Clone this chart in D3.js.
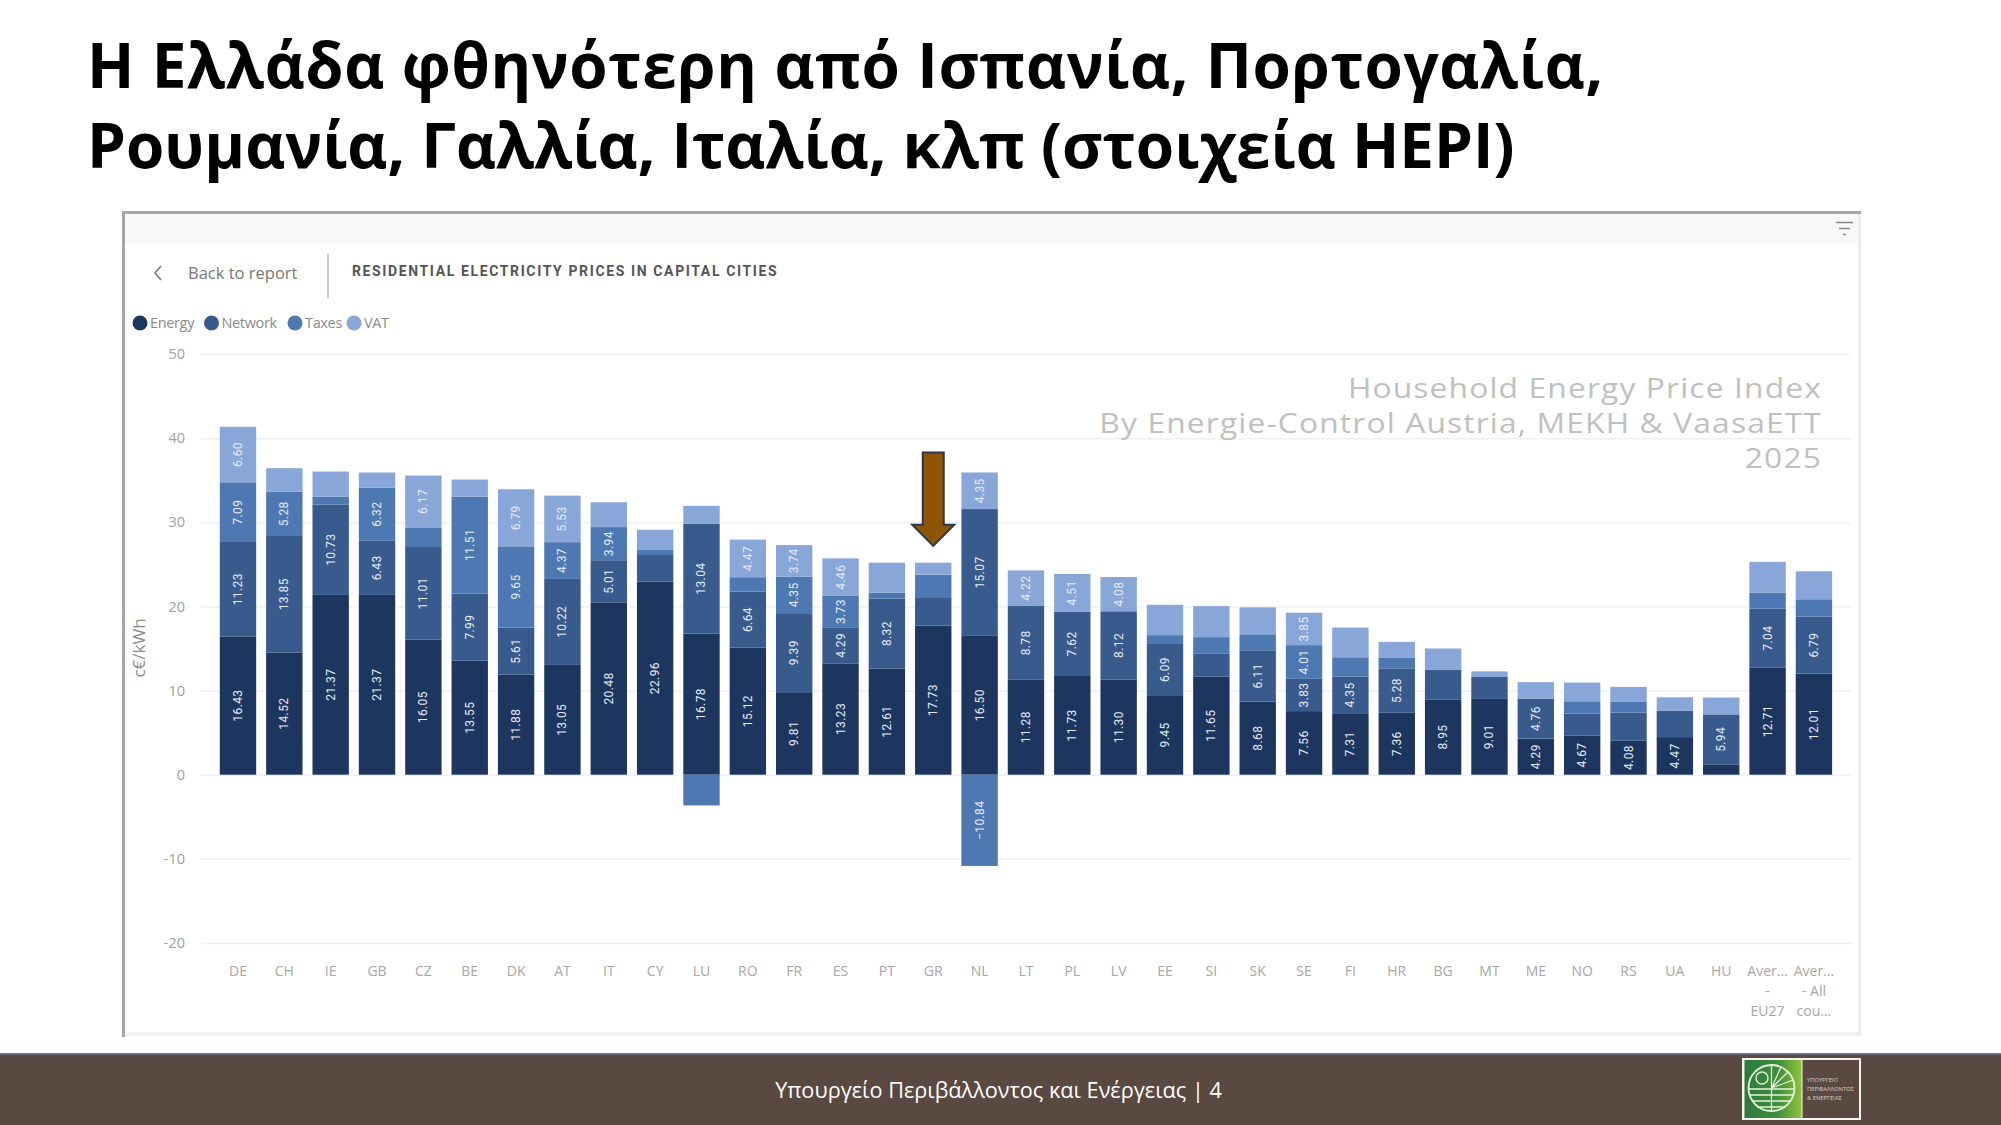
<!DOCTYPE html>
<meta charset="utf-8">
<style>
  body { margin: 0; background: #fff; }
  svg { display: block; }
  text { font-family: "Open Sans", sans-serif; }
</style>

<script src="https://d3js.org/d3.v7.min.js"></script>

<div id="my_dataviz"></div>

<script>
  var width = 2001
  var height = 1125

  // stacked series, c€/kWh
  var categories = ["DE", "CH", "IE", "GB", "CZ", "BE", "DK", "AT", "IT", "CY", "LU", "RO", "FR", "ES", "PT", "GR", "NL",
                    "LT", "PL", "LV", "EE", "SI", "SK", "SE", "FI", "HR", "BG", "MT", "ME", "NO", "RS", "UA", "HU", "Aver... - EU27", "Aver... - All cou..."]
  var tickLines = { "Aver... - EU27": ["Aver...", "-", "EU27"], "Aver... - All cou...": ["Aver...", "- All", "cou..."] }

  var energy  = [16.43, 14.52, 21.37, 21.37, 16.05, 13.55, 11.88, 13.05, 20.48, 22.96, 16.78, 15.12, 9.81, 13.23, 12.61, 17.73, 16.50,
                 11.28, 11.73, 11.30, 9.45, 11.65, 8.68, 7.56, 7.31, 7.36, 8.95, 9.01, 4.29, 4.67, 4.08, 4.47, 1.23, 12.71, 12.01]
  var network = [11.23, 13.85, 10.73, 6.43, 11.01, 7.99, 5.61, 10.22, 5.01, 3.15, 13.04, 6.64, 9.39, 4.29, 8.32, 3.27, 15.07,
                 8.78, 7.62, 8.12, 6.09, 2.72, 6.11, 3.83, 4.35, 5.28, 3.55, 2.60, 4.76, 2.59, 3.30, 3.15, 5.94, 7.04, 6.79]
  var taxes   = [7.09, 5.28, 0.95, 6.32, 2.33, 11.51, 9.65, 4.37, 3.94, 0.60, -3.65, 1.71, 4.35, 3.73, 0.70, 2.77, -10.84,
                 0, 0, 0, 1.05, 1.98, 1.90, 4.01, 2.30, 1.30, 0, 0, 0, 1.47, 1.27, 0, 0, 1.90, 2.05]
  var vat     = [6.60, 2.78, 2.98, 1.79, 6.17, 2.03, 6.79, 5.53, 2.95, 2.40, 2.13, 4.47, 3.74, 4.46, 3.57, 1.43, 4.35,
                 4.22, 4.51, 4.08, 3.60, 3.69, 3.20, 3.85, 3.53, 1.85, 2.50, 0.67, 1.95, 2.22, 1.79, 1.58, 2.00, 3.65, 3.33]

  var seriesNames = ["Energy", "Network", "Taxes", "VAT"]
  var yTicks = [-20, -10, 0, 10, 20, 30, 40, 50]
  var labelMin = 3.7   // smaller segments carry no label in the report

  var titleLines = ["Η Ελλάδα φθηνότερη από Ισπανία, Πορτογαλία,", "Ρουμανία, Γαλλία, Ιταλία, κλπ (στοιχεία HEPI)"]
  var watermark = ["Household Energy Price Index", "By Energie-Control Austria, MEKH & VaasaETT", "2025"]

  var color = d3.scaleOrdinal()
    .domain(seriesNames)
    .range(["#1d3660", "#395a8d", "#4e78b2", "#88a6d8"])

  var rows = categories.map(function(c, i){
    return { name: c, Energy: energy[i], Network: network[i], Taxes: taxes[i], VAT: vat[i] }
  })

  var stacked = d3.stack()
    .keys(seriesNames)
    .offset(d3.stackOffsetDiverging)(rows)

  var svg = d3.select("#my_dataviz")
    .append("svg")
      .attr("width", width)
      .attr("height", height)

  var x = d3.scaleBand()
    .domain(categories)
    .range([214.8, 1837.1])
    .paddingInner(0.215)
    .paddingOuter(0.1075)

  var y = d3.scaleLinear()
    .domain([-20, 50])
    .range([943, 354])

  // report panel
  svg.append("rect").attr("x", 123).attr("y", 212).attr("width", 1737).attr("height", 31).attr("fill", "#f8f8f8")
  svg.append("rect").attr("x", 123).attr("y", 1032).attr("width", 1737).attr("height", 4).attr("fill", "#f1f1f1")
  svg.append("rect").attr("x", 1858).attr("y", 212).attr("width", 3).attr("height", 824).attr("fill", "#ececec")
  svg.append("rect").attr("x", 122).attr("y", 211).attr("width", 1739).attr("height", 3).attr("fill", "#a6a6a6")
  svg.append("rect").attr("x", 122).attr("y", 211).attr("width", 3).attr("height", 826).attr("fill", "#a6a6a6")

  // filter icon
  var icon = svg.append("g").attr("stroke", "#8a8a8a").attr("stroke-width", 1.5)
  icon.append("line").attr("x1", 1836).attr("x2", 1853).attr("y1", 222.5).attr("y2", 222.5)
  icon.append("line").attr("x1", 1839).attr("x2", 1850).attr("y1", 228.5).attr("y2", 228.5)
  icon.append("line").attr("x1", 1843).attr("x2", 1846).attr("y1", 234.5).attr("y2", 234.5)

  // header of the report
  svg.append("path").attr("d", "M161,266 L155,273 L161,280").attr("fill", "none").attr("stroke", "#777").attr("stroke-width", 1.6)
  svg.append("text").attr("x", 188).attr("y", 279).attr("font-size", 16.5).attr("fill", "#777").text("Back to report")
  svg.append("line").attr("x1", 328).attr("x2", 328).attr("y1", 254).attr("y2", 298).attr("stroke", "#bbb").attr("stroke-width", 1.5)
  svg.append("text").attr("x", 352).attr("y", 276).attr("font-size", 14).attr("font-weight", 700)
    .attr("letter-spacing", 1.62).attr("fill", "#555").style("font-family", "Roboto").text("RESIDENTIAL ELECTRICITY PRICES IN CAPITAL CITIES")

  // legend
  var legendX = [140, 211.5, 295, 354]
  var legend = svg.append("g").selectAll("g")
    .data(seriesNames)
    .enter()
    .append("g")
      .attr("transform", function(d, i){ return "translate(" + legendX[i] + ",323)" })
  legend.append("circle").attr("r", 7.5).attr("fill", function(d){ return color(d) })
  legend.append("text")
    .attr("x", 10).attr("y", 5).attr("font-size", 14.5).attr("letter-spacing", -0.35).attr("fill", "#8a8a8a")
    .text(function(d){ return d })

  // y axis and grid
  var yAxis = svg.append("g")
    .attr("transform", "translate(201,0)")
    .call(d3.axisLeft(y).tickValues(yTicks).tickSize(-1650).tickPadding(16).tickFormat(function(d){ return d }))
  yAxis.select(".domain").remove()
  yAxis.selectAll("line").attr("stroke", "#f0f0f0").attr("stroke-width", 1.5)
  yAxis.selectAll("text").attr("font-size", 14.5).attr("fill", "#a0a0a0").style("font-family", "Open Sans")

  svg.append("text")
    .attr("transform", "translate(145,648) rotate(-90)")
    .attr("text-anchor", "middle").attr("font-size", 17).attr("fill", "#8a8a8a")
    .text("c€/kWh")

  // x axis, three line labels for the two averages
  var xAxis = svg.append("g")
    .attr("transform", "translate(0,943)")
    .call(d3.axisBottom(x).tickSize(0).tickPadding(33).tickFormat(""))
  xAxis.select(".domain").remove()
  xAxis.selectAll(".tick text").each(function(d){
    var lines = tickLines[d] || [d]
    d3.select(this).attr("font-size", 14).attr("fill", "#a6a6a6").style("font-family", "Open Sans")
      .selectAll("tspan")
      .data(lines)
      .enter()
      .append("tspan")
        .attr("x", 0)
        .attr("dy", function(l, i){ return i == 0 ? 0 : 20 })
        .text(function(l){ return l })
  })

  // watermark, stretched wide like the screenshot
  svg.append("g").selectAll("text")
    .data(watermark)
    .enter()
    .append("text")
      .attr("transform", function(d, i){ return "translate(1822," + (398 + i * 35) + ") scale(1.135,1)" })
      .attr("text-anchor", "end").attr("font-size", 28).attr("letter-spacing", 1)
      .attr("fill", "#c0c0c0")
      .text(function(d){ return d })

  // bars
  var layers = svg.append("g").selectAll("g")
    .data(stacked)
    .enter()
    .append("g")
      .attr("fill", function(d){ return color(d.key) })

  layers.selectAll("rect")
    .data(function(d){ return d })
    .enter()
    .append("rect")
      .attr("x", function(d){ return x(d.data.name) })
      .attr("y", function(d){ return y(d[1]) })
      .attr("width", x.bandwidth())
      .attr("height", function(d){ return y(d[0]) - y(d[1]) })

  // value labels inside the segments
  layers.each(function(s){
    d3.select(this).selectAll("text")
      .data(s.filter(function(d){ return Math.abs(d.data[s.key]) >= labelMin }))
      .enter()
      .append("text")
        .attr("transform", function(d){
          return "translate(" + (x(d.data.name) + x.bandwidth() / 2 + 4) + "," + y((d[0] + d[1]) / 2) + ") rotate(-90)"
        })
        .attr("text-anchor", "middle")
        .attr("font-size", 12).attr("letter-spacing", 0.4)
        .attr("fill", "#e6ecf5")
        .style("font-family", "Roboto")
        .text(function(d){ return d3.format(".2f")(d.data[s.key]) })
  })

  // arrow above GR
  var ax = x("GR") + x.bandwidth() / 2
  svg.append("path")
    .attr("d", d3.line()([[ax - 10.5, y(38.3)], [ax + 10.5, y(38.3)], [ax + 10.5, y(29.7)], [ax + 21, y(29.7)],
                          [ax, y(27.2)], [ax - 21, y(29.7)], [ax - 10.5, y(29.7)]]) + "Z")
    .attr("fill", "#8f5507")
    .attr("stroke", "#2b3648")
    .attr("stroke-width", 2)

  // title, Calibri is not there so Open Sans gets narrowed
  svg.append("g").selectAll("text")
    .data(titleLines)
    .enter()
    .append("text")
      .attr("transform", function(d, i){ return "translate(87," + (88 + i * 80) + ") scale(0.976,1)" })
      .attr("font-size", 63.5).attr("font-weight", 700).attr("fill", "#000")
      .attr("letter-spacing", function(d, i){ return i == 0 ? 0.65 : 0 })
      .text(function(d){ return d })

  // footer
  svg.append("rect").attr("x", 0).attr("y", 1053).attr("width", width).attr("height", 72).attr("fill", "#5a4941")
  svg.append("rect").attr("x", 0).attr("y", 1053).attr("width", width).attr("height", 1.5).attr("fill", "#5f7fae")
  svg.append("text").attr("x", 998.5).attr("y", 1098).attr("text-anchor", "middle").attr("font-size", 21.7).attr("fill", "#fff")
    .text("Υπουργείο Περιβάλλοντος και Ενέργειας | 4")

  // ministry logo
  var grad = svg.append("defs").append("linearGradient").attr("id", "logoGreen")
  grad.append("stop").attr("offset", "0%").attr("stop-color", "#2c7a3e")
  grad.append("stop").attr("offset", "60%").attr("stop-color", "#3f8f3c")
  grad.append("stop").attr("offset", "100%").attr("stop-color", "#93c43a")
  var logo = svg.append("g")
  logo.append("rect").attr("x", 1742).attr("y", 1058).attr("width", 119).attr("height", 62).attr("fill", "#f4f4f0")
  logo.append("rect").attr("x", 1744.5).attr("y", 1060).attr("width", 57).attr("height", 58).attr("fill", "url(#logoGreen)")
  logo.append("rect").attr("x", 1802.5).attr("y", 1060).attr("width", 56.5).attr("height", 58).attr("fill", "#5a4941")
  logo.append("circle").attr("cx", 1771.5).attr("cy", 1088).attr("r", 23).attr("fill", "none").attr("stroke", "#e6f3d8").attr("stroke-width", 1.8)
  logo.append("circle").attr("cx", 1762).attr("cy", 1078).attr("r", 6).attr("fill", "none").attr("stroke", "#e6f3d8").attr("stroke-width", 1.4)
  logo.append("path").attr("d", "M1749,1089 H1794 M1750,1095 H1793 M1752,1101 H1791 M1757,1107 H1786 M1771.5,1065 V1111 M1771.5,1088 L1781,1067 M1771.5,1088 L1788,1072 M1771.5,1088 L1793,1080")
    .attr("stroke", "#e6f3d8").attr("stroke-width", 1.3).attr("fill", "none")
  logo.selectAll("text.small")
    .data(["ΥΠΟΥΡΓΕΙΟ", "ΠΕΡΙΒΑΛΛΟΝΤΟΣ", "& ΕΝΕΡΓΕΙΑΣ"])
    .enter()
    .append("text")
      .attr("class", "small")
      .attr("x", 1807)
      .attr("y", function(d, i){ return 1082 + i * 9 })
      .attr("font-size", 5.8).attr("fill", "#d9d2cb")
      .text(function(d){ return d })
</script>
